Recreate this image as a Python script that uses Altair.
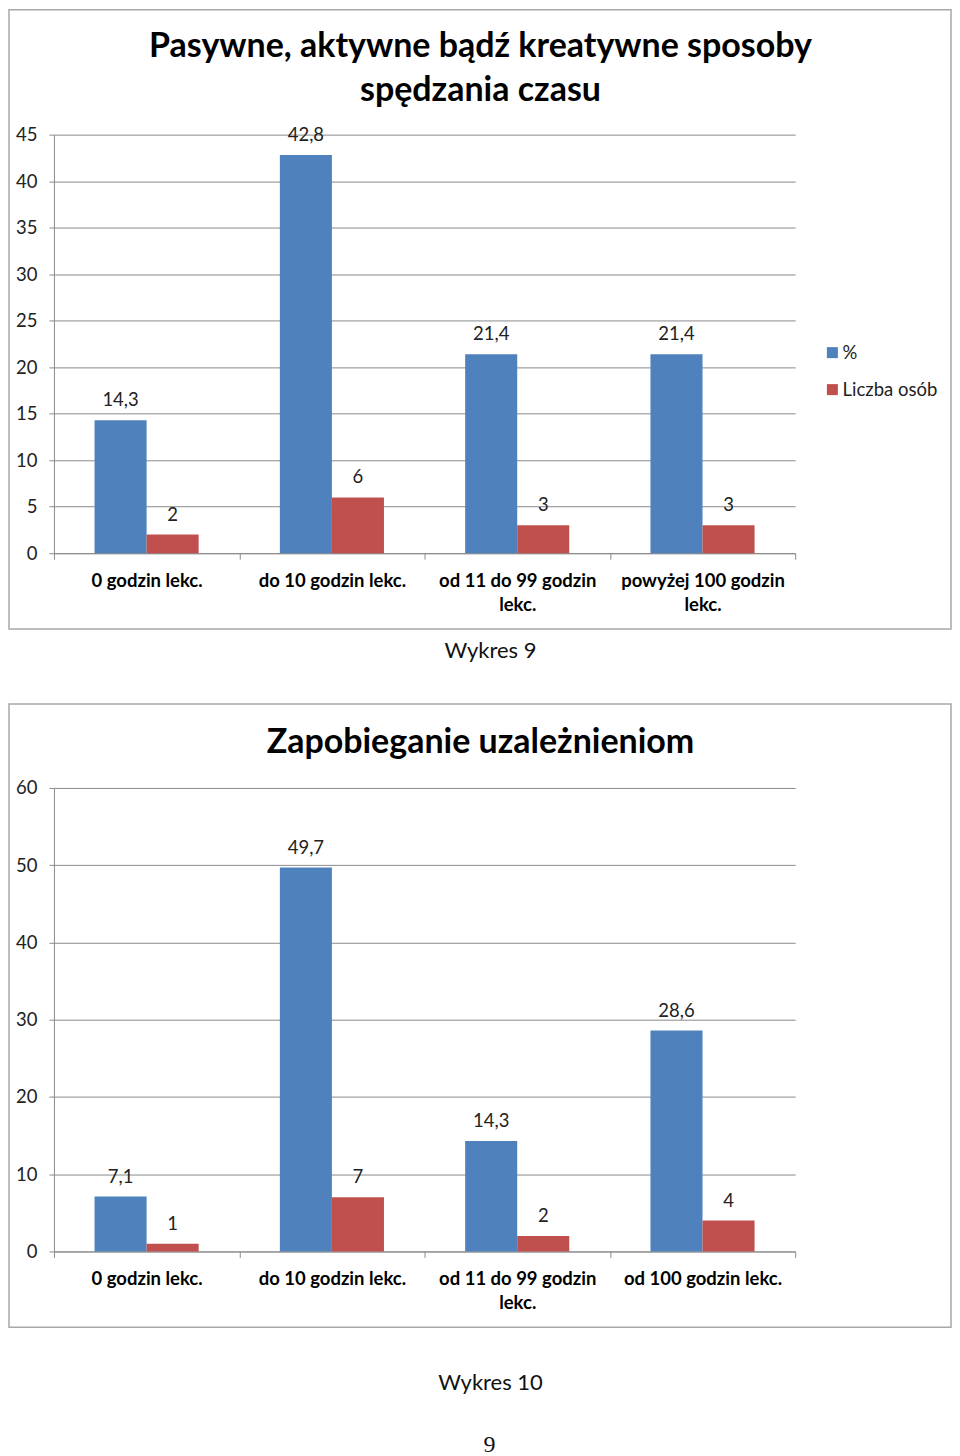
import altair as alt
import pandas as pd

# ---------------- data ----------------
categories1 = ["0 godzin lekc.", "do 10 godzin lekc.", "od 11 do 99 godzin\nlekc.", "powyżej 100 godzin\nlekc."]
pct1 = [14.3, 42.8, 21.4, 21.4]
count1 = [2, 6, 3, 3]

categories2 = ["0 godzin lekc.", "do 10 godzin lekc.", "od 11 do 99 godzin\nlekc.", "od 100 godzin lekc."]
pct2 = [7.1, 49.7, 14.3, 28.6]
count2 = [1, 7, 2, 4]

series = ["%", "Liczba osób"]
colors = ["#4F81BD", "#C0504D"]

title1 = ["Pasywne, aktywne bądź kreatywne sposoby", "spędzania czasu"]
title2 = ["Zapobieganie uzależnieniom"]
caption1 = "Wykres 9"
caption2 = "Wykres 10"
page_no = "9"

FONT = "Lato"
GRID = "#8a8a8a"
FRAME = "#a8a8a8"
W = 742


def fmt(v):
    if isinstance(v, int):
        return str(v)
    return f"{v:.1f}".replace(".", ",")


def single(text):
    return alt.Chart(pd.DataFrame({"t": [text]}))


def panel(cats, pct, cnt, ymax, ystep, plot_h, title_lines, title_y,
          frame_top, frame_bottom, legend_y, extra_texts):
    rows = []
    for i, c in enumerate(cats):
        rows.append(dict(cat=c, ser=series[0], val=pct[i], lab=fmt(pct[i])))
        rows.append(dict(cat=c, ser=series[1], val=cnt[i], lab=fmt(cnt[i])))
    df = pd.DataFrame(rows)

    x = alt.X("cat:N", sort=cats,
              scale=alt.Scale(paddingInner=0, paddingOuter=0),
              axis=alt.Axis(title=None, labelAngle=0,
                            labelExpr="split(datum.label, '\\n')",
                            tickBand="extent", grid=False,
                            labelFont=FONT, labelFontWeight="bold",
                            labelFontSize=18.5, labelColor="#000",
                            domainColor=GRID, tickColor=GRID,
                            tickSize=6, labelPadding=12,
                            labelLineHeight=24, labelLimit=300))
    xo = alt.XOffset("ser:N", sort=series,
                     scale=alt.Scale(paddingInner=0, paddingOuter=0.78))
    y = alt.Y("val:Q", scale=alt.Scale(domain=[0, ymax], nice=False, zero=True),
              axis=alt.Axis(title=None, values=list(range(0, ymax + 1, ystep)),
                            labelFont=FONT, labelFontSize=18.5, labelColor="#222",
                            domainColor=GRID, tickColor=GRID, gridColor=GRID,
                            tickSize=5, labelPadding=12, grid=True))

    bars = alt.Chart(df).mark_bar().encode(
        x=x, xOffset=xo, y=y,
        color=alt.Color("ser:N", sort=series,
                        scale=alt.Scale(domain=series, range=colors),
                        legend=alt.Legend(title=None, orient="none",
                                          legendX=770, legendY=legend_y,
                                          symbolType="square", symbolSize=121,
                                          symbolStrokeWidth=0,
                                          labelFont=FONT, labelFontSize=18.5,
                                          labelColor="#222", rowPadding=18,
                                          labelOffset=1)),
    )
    labels = alt.Chart(df).mark_text(
        baseline="alphabetic", dy=-14, fontSize=18.5, font=FONT, color="#222"
    ).encode(x=alt.X("cat:N", sort=cats), xOffset=xo, y=alt.Y("val:Q"), text="lab:N")

    frame = single("frame").mark_rect(filled=False, stroke=FRAME, strokeWidth=1.5).encode(
        x=alt.value(-45), x2=alt.value(W + 156),
        y=alt.value(frame_top), y2=alt.value(frame_bottom))

    title = single("title").mark_text(
        text=title_lines, font=FONT, fontSize=34, fontWeight="bold",
        color="#000", baseline="alphabetic", align="center", lineHeight=44
    ).encode(x=alt.value(427), y=alt.value(title_y))

    layers = [frame, bars, labels, title]
    for (txt, xx, yy, size, font) in extra_texts:
        layers.append(single(txt).mark_text(
            font=font, fontSize=size, color="#111", baseline="alphabetic",
            align="center").encode(text="t:N", x=alt.value(xx), y=alt.value(yy)))

    return alt.layer(*layers).properties(width=W, height=plot_h)


p1 = panel(categories1, pct1, count1, 45, 5, 419, title1, -78, -125, 495, 209,
           [(caption1, 437, 524, 22, FONT)])
p2 = panel(categories2, pct2, count2, 60, 10, 464, title2, -35, -84, 540, 231,
           [(caption2, 437, 603, 22, FONT),
            (page_no, 436, 665, 24, "Liberation Serif")])

chart = alt.vconcat(p1, p2, spacing=41, padding=0).configure_view(stroke=None)

chart.save("out.html", embed_options={"renderer": "svg", "actions": False})
